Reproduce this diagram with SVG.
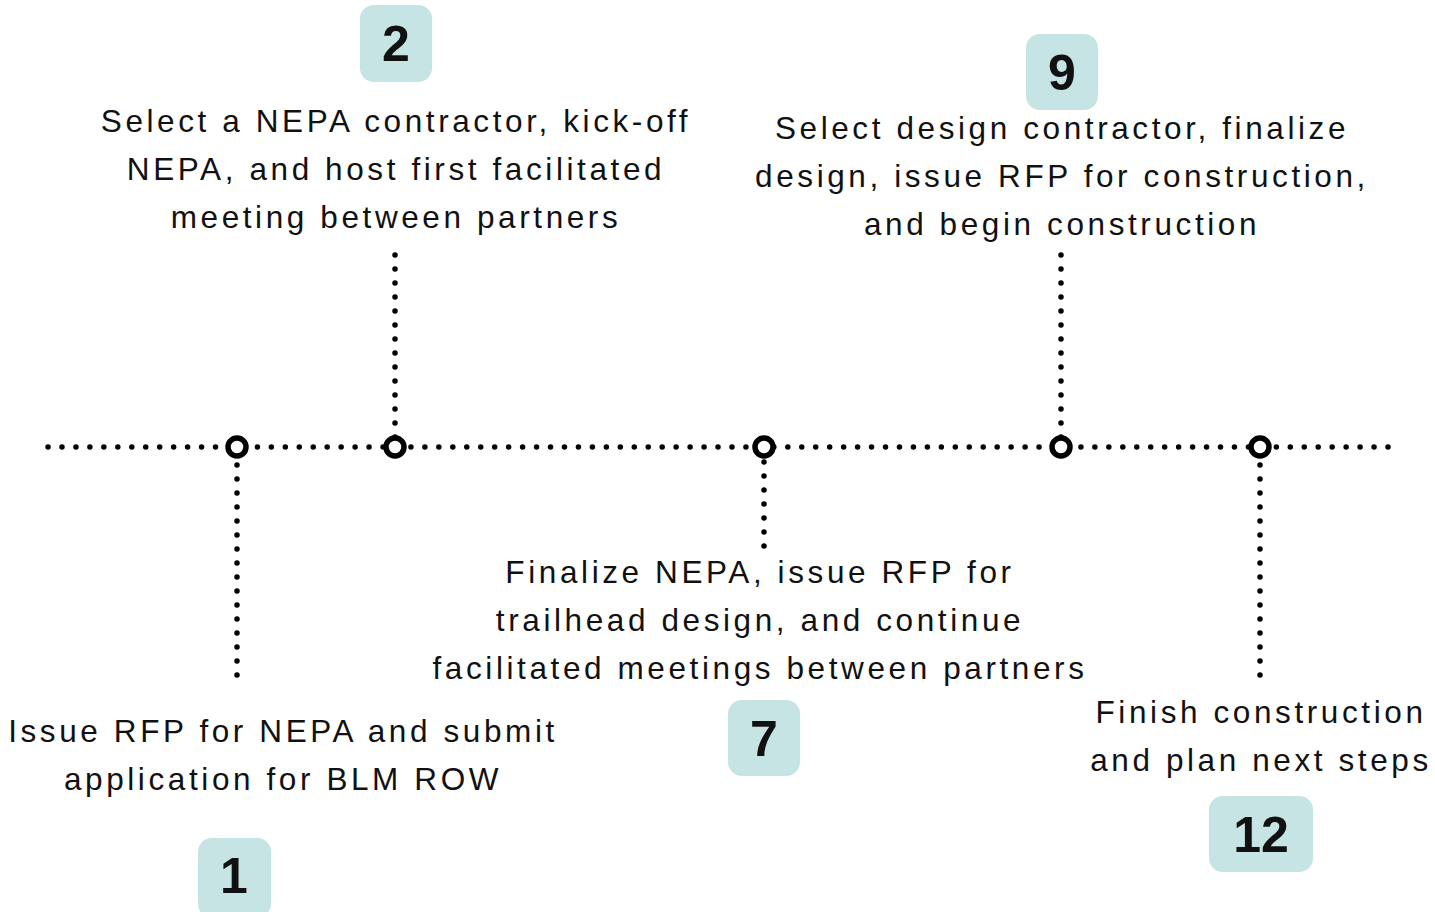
<svg xmlns="http://www.w3.org/2000/svg" width="1435" height="912" viewBox="0 0 1435 912">
<style>
.dot{fill:none;stroke:#000;stroke-width:5.5;stroke-linecap:round;stroke-dasharray:0 14}
.hdot{stroke-dasharray:0 13.958}
.ring{fill:#fff;stroke:#000;stroke-width:5.5}
.badge{fill:#c5e4e3}
.num{font-family:"Liberation Sans",Arial,sans-serif;font-weight:bold;font-size:50px;fill:#111;text-anchor:middle}
.lbl{font-family:"Liberation Sans",Arial,sans-serif;font-size:31.5px;letter-spacing:3.6px;fill:#111;text-anchor:middle}
</style>
<rect width="1435" height="912" fill="#fff"/>
<g id="connectors">
<line class="dot hdot" x1="1388" y1="447" x2="48" y2="447"/>
<line class="dot" x1="237" y1="675" x2="237" y2="447"/>
<line class="dot" x1="395" y1="255" x2="395" y2="447"/>
<line class="dot" x1="764" y1="546" x2="764" y2="447"/>
<line class="dot" x1="1061" y1="255" x2="1061" y2="447"/>
<line class="dot" x1="1260" y1="675" x2="1260" y2="447"/>
</g>
<g id="marker1"><circle class="ring" cx="237" cy="447" r="9"/></g>
<g id="marker2"><circle class="ring" cx="395" cy="447" r="9"/></g>
<g id="marker7"><circle class="ring" cx="764" cy="447" r="9"/></g>
<g id="marker9"><circle class="ring" cx="1061" cy="447" r="9"/></g>
<g id="marker12"><circle class="ring" cx="1260" cy="447" r="9"/></g>
<g id="step2">
<rect class="badge" x="360" y="5" width="72" height="77" rx="14"/>
<text class="num" x="396" y="61">2</text>
<text class="lbl" x="396" y="132">Select a NEPA contractor, kick-off</text>
<text class="lbl" x="396" y="180">NEPA, and host first facilitated</text>
<text class="lbl" x="396" y="228">meeting between partners</text>
</g>
<g id="step9">
<rect class="badge" x="1026" y="34" width="72" height="76" rx="14"/>
<text class="num" x="1062" y="90">9</text>
<text class="lbl" x="1062" y="139">Select design contractor, finalize</text>
<text class="lbl" x="1062" y="187">design, issue RFP for construction,</text>
<text class="lbl" x="1062" y="235">and begin construction</text>
</g>
<g id="step7">
<text class="lbl" x="760" y="583">Finalize NEPA, issue RFP for</text>
<text class="lbl" x="760" y="631">trailhead design, and continue</text>
<text class="lbl" x="760" y="679">facilitated meetings between partners</text>
<rect class="badge" x="728" y="700" width="72" height="76" rx="14"/>
<text class="num" x="764" y="756">7</text>
</g>
<g id="step1">
<text class="lbl" x="283" y="742">Issue RFP for NEPA and submit</text>
<text class="lbl" x="283" y="790">application for BLM ROW</text>
<rect class="badge" x="198" y="838" width="73" height="80" rx="14"/>
<text class="num" x="234" y="893">1</text>
</g>
<g id="step12">
<text class="lbl" x="1261" y="723">Finish construction</text>
<text class="lbl" x="1261" y="771">and plan next steps</text>
<rect class="badge" x="1209" y="796" width="104" height="76" rx="14"/>
<text class="num" x="1261" y="852">12</text>
</g>
</svg>
